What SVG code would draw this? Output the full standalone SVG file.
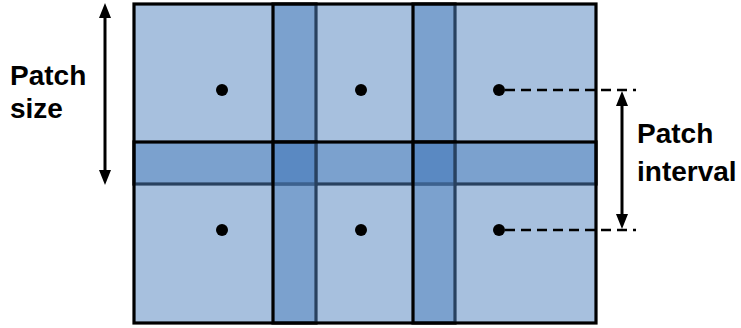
<svg xmlns="http://www.w3.org/2000/svg" width="741" height="328" viewBox="0 0 741 328">
<style>
.patch{fill:#4F81BD;fill-opacity:0.5;stroke:#000;stroke-width:3.2}
.dot{fill:#000}
.lbl{font-family:"Liberation Sans",Arial,sans-serif;font-weight:bold;font-size:28px;fill:#000}
.dash{stroke:#000;stroke-width:2.5;stroke-dasharray:10,6;fill:none}
.arr{stroke:#000;stroke-width:3;fill:none}
</style>
<rect width="741" height="328" fill="#fff"/>
<g id="patch1"><rect class="patch" x="134" y="4" width="182" height="180"/></g>
<g id="patch2"><rect class="patch" x="273" y="4" width="182" height="180"/></g>
<g id="patch3"><rect class="patch" x="413" y="4" width="183" height="180"/></g>
<g id="patch4"><rect class="patch" x="134" y="142" width="182" height="181"/></g>
<g id="patch5"><rect class="patch" x="273" y="142" width="182" height="181"/></g>
<g id="patch6"><rect class="patch" x="413" y="142" width="183" height="181"/></g>
<g id="centers">
<circle class="dot" cx="222" cy="90" r="6"/>
<circle class="dot" cx="361" cy="90" r="6"/>
<circle class="dot" cx="499" cy="90" r="6"/>
<circle class="dot" cx="222" cy="230" r="6"/>
<circle class="dot" cx="361" cy="230" r="6"/>
<circle class="dot" cx="499" cy="230" r="6"/>
</g>
<g id="connectors">
<line class="dash" x1="505" y1="90" x2="636" y2="90"/>
<line class="dash" x1="505" y1="230" x2="636" y2="230"/>
<path d="M105,17 L105,171" class="arr"/>
<path d="M99,18 L105,3 L111,18 Z" fill="#000"/>
<path d="M99,170 L105,185 L111,170 Z" fill="#000"/>
<path d="M622,105 L622,215" class="arr"/>
<path d="M616,106 L622,91 L628,106 Z" fill="#000"/>
<path d="M616,214 L622,229 L628,214 Z" fill="#000"/>
</g>
<g id="label-size">
<text class="lbl" x="10" y="85">Patch</text>
<text class="lbl" x="10" y="118">size</text>
</g>
<g id="label-interval">
<text class="lbl" x="637" y="143">Patch</text>
<text class="lbl" x="637" y="181">interval</text>
</g>
</svg>
